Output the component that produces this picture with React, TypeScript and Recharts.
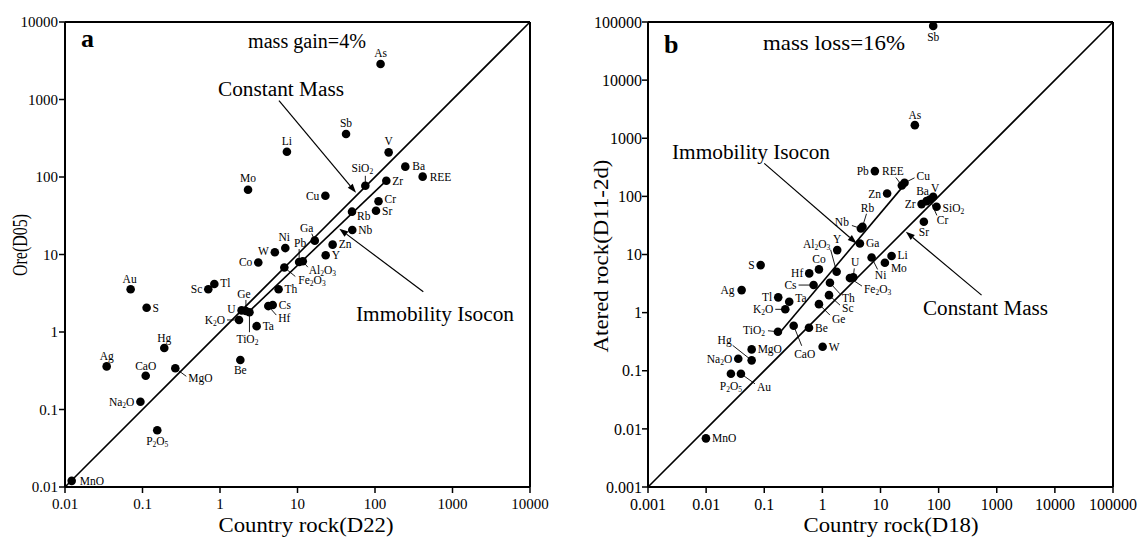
import React from "react";
import { ScatterChart, Scatter, XAxis, YAxis, ReferenceLine } from "recharts";

const FONT = "Liberation Serif, Times New Roman, Times, serif";

// ---- panel a: country rock (D22) vs ore (D05)
const elemA = [
  "As", "Sb", "Li", "V", "Ba", "REE", "SiO2", "Zr", "Mo", "Cu", "Cr", "Sr", "Rb", "Nb",
  "Ga", "Zn", "Ni", "W", "Y", "Co", "Pb", "Al2O3", "Fe2O3", "Th", "Sc", "Tl", "U", "Ge",
  "TiO2", "K2O", "Cs", "Hf", "Ta", "Au", "S", "Hg", "Ag", "CaO", "MgO", "Be", "Na2O",
  "P2O5", "MnO",
];
const rockA = [
  118, 42.3, 7.3, 150, 246, 412, 75, 140, 2.3, 22.9, 111, 103, 50.5, 50.9,
  16.7, 28.4, 6.96, 5.1, 23.1, 3.12, 10.5, 11.7, 6.76, 5.7, 0.706, 0.845, 1.9, 2.16,
  2.4, 1.76, 4.79, 4.2, 2.97, 0.0703, 0.113, 0.191, 0.0345, 0.11, 0.265, 1.83, 0.094,
  0.155, 0.0122,
];
const oreA = [
  2870, 359, 212, 208, 136, 101, 77, 89.6, 68.6, 57.4, 48.6, 36.7, 35.7, 20.7,
  15.1, 13.4, 12.1, 10.7, 9.8, 7.9, 8.0, 8.2, 6.8, 3.56, 3.56, 4.16, 1.9, 1.87,
  1.8, 1.43, 2.23, 2.16, 1.19, 3.56, 2.06, 0.622, 0.36, 0.273, 0.34, 0.435, 0.126,
  0.054, 0.012,
];

// ---- panel b: country rock (D18) vs altered rock (D11-2d)
const elemB = [
  "Sb", "As", "Pb", "REE", "Cu", "Zn", "Zr", "Ba", "Cr", "V", "SiO2", "Sr", "Rb", "Nb",
  "Ga", "Y", "Al2O3", "Li", "Mo", "Ni", "U", "Fe2O3", "Co", "Hf", "Cs", "Th", "Sc", "Ge",
  "S", "Ag", "Tl", "Ta", "K2O", "TiO2", "CaO", "Be", "W", "MgO", "Hg", "Na2O", "P2O5",
  "Au", "MnO",
];
const rockB = [
  80.7, 39, 8.0, 23.3, 25.9, 13.0, 50.9, 62, 70.7, 80.6, 92.1, 55.7, 4.9, 4.6,
  4.42, 1.8, 1.76, 15.5, 11.9, 7.03, 3.4, 2.98, 0.873, 0.594, 0.706, 1.35, 1.3, 0.873,
  0.0867, 0.0408, 0.174, 0.269, 0.23, 0.172, 0.321, 0.588, 1.01, 0.0607, 0.0607, 0.0357, 0.0267,
  0.0397, 0.00993,
];
const alteredB = [
  85700, 1680, 272, 154, 171, 112, 73.6, 82.8, 88.6, 98.4, 66.2, 36.5, 30, 28,
  15.5, 11.9, 5.04, 9.4, 7.2, 8.9, 4.04, 3.93, 5.54, 4.73, 2.98, 3.26, 2.0, 1.4,
  6.57, 2.44, 1.83, 1.54, 1.14, 0.469, 0.594, 0.548, 0.259, 0.233, 0.151, 0.161, 0.0887,
  0.0887, 0.00687,
];

const ticksA = [0.01, 0.1, 1, 10, 100, 1000, 10000];
const ticksB = [0.001, 0.01, 0.1, 1, 10, 100, 1000, 10000, 100000];

// isocon lines (data space)
const isoconA = [{ x: 2.23, y: 1.73 }, { x: 140, y: 89.6 }];
const isoconB = [{ x: 0.199, y: 0.491 }, { x: 24.6, y: 150 }];

// annotation arrows, tail -> head (data space)
const arrowsA = [
  [{ x: 5.77, y: 966 }, { x: 56.9, y: 62.7 }],
  [{ x: 420, y: 3.31 }, { x: 34.6, y: 21.5 }],
];
const arrowsB = [
  [{ x: 0.1, y: 369 }, { x: 3.88, y: 15.5 }],
  [{ x: 548, y: 2.0 }, { x: 27.3, y: 24.6 }],
];

// label placement: [dx, dy, anchor, leaderX?, leaderY?]
type Lab = [number, number, string, number?, number?];
const labA: Record<string, Lab> = {
  As: [0, -11, "m"], Sb: [0, -11, "m"], Li: [0, -11, "m"], V: [0, -11, "m"],
  Ba: [7, -1, "s"], REE: [7, 0, "s"], SiO2: [-3, -18, "m", 0, -10], Zr: [6, 0, "s"],
  Mo: [0, -12, "m"], Cu: [-6, 0, "e"], Cr: [6, -2, "s"], Sr: [6, 0, "s"], Rb: [5, 4, "s"],
  Nb: [6, 0, "s"], Ga: [-8, -13, "m", -3, -7], Zn: [6, -1, "s"], Y: [6, 0, "s"],
  Ni: [-1, -11, "m"], W: [-6, -1, "e"], Co: [-6, 0, "e"], Pb: [1, -19, "m", 0, -13],
  Al2O3: [6, 9, "s", 5, 6], Fe2O3: [14, 13, "s", 11, 9], Th: [6, 0, "s"], Sc: [-6, 0, "e"],
  Tl: [6, -1, "s"], U: [-6, -1, "e"], Ge: [-2, -17, "m", 0, -11], TiO2: [-2, 27, "m", 0, 20],
  K2O: [-14, 0, "e", -12, 0], Cs: [6, 0, "s"], Hf: [10, 12, "s", 8, 9], Ta: [6, 0, "s"],
  Au: [-1, -10, "m"], S: [6, 0, "s"], Hg: [0, -10, "m"], Ag: [0, -10, "m"], CaO: [0, -10, "m"],
  MgO: [13, 10, "s", 11, 8], Be: [0, 10, "m"], Na2O: [-6, 0, "e"], P2O5: [0, 11, "m"],
  MnO: [8, 0, "s"],
};
const labB: Record<string, Lab> = {
  Sb: [0, 11, "m"], As: [0, -10, "m"], Pb: [-6, 0, "e"], REE: [-9, -14, "m", -6, -8],
  Cu: [12, -7, "s", 10, -5], Zn: [-6, 0, "e"], Zr: [-6, 0, "e"], Ba: [-4, -10, "m"],
  V: [2, -9, "m"], SiO2: [6, 1, "s"], Cr: [7, 21, "s", 7, 16], Sr: [0, 10, "m"],
  Rb: [5, -19, "m", 4, -13], Nb: [-12, -7, "e", -9, -3], Ga: [6, 0, "s"], Y: [0, -11, "m"],
  Al2O3: [-20, -28, "m", -6, -22], Li: [6, -1, "s"], Mo: [6, 5, "s"], Ni: [9, 18, "m", 6, 12],
  U: [2, -15, "m", 1, -9], Fe2O3: [14, 11, "s", 12, 8], Co: [0, -10, "m"], Hf: [-6, 0, "e"],
  Cs: [-17, 0, "e", -15, 0], Th: [12, 15, "s", 10, 11], Sc: [13, 13, "s", 11, 10],
  Ge: [13, 15, "s", 11, 11], S: [-6, 0, "e"], Ag: [-7, 0, "e"], Tl: [-6, 0, "e"],
  Ta: [6, -4, "s"], K2O: [-12, 0, "e", -10, 0], TiO2: [-13, -2, "e", -10, -1],
  CaO: [11, 28, "m", 8, 20], Be: [6, 0, "s"], W: [6, 0, "s"], MgO: [6, 0, "s"],
  Hg: [-27, -20, "m", -19, -15], Na2O: [-6, 0, "e"], P2O5: [0, 12, "m"],
  Au: [16, 13, "s", 14, 10], MnO: [6, 0, "s"],
};

function Chem({ name, ...rest }: any) {
  const parts: string[] = name.match(/[A-Za-z]+|\d+/g) || [name];
  return (
    <text {...rest}>
      {parts.map((p, i) =>
        /\d/.test(p) ? (
          <tspan key={i} fontSize={7.5} dy={3}>{p}</tspan>
        ) : (
          <tspan key={i} dy={i > 0 && /\d/.test(parts[i - 1]) ? -3 : 0}>{p}</tspan>
        )
      )}
    </text>
  );
}

const makeDot = (layout: Record<string, Lab>) => (props: any) => {
  const { cx, cy, payload } = props;
  const [dx, dy, a, lx, ly] = layout[payload.name] || [6, 0, "s"];
  const anchor = a === "s" ? "start" : a === "e" ? "end" : "middle";
  return (
    <g>
      {lx !== undefined && (
        <line x1={cx} y1={cy} x2={cx + lx} y2={cy + (ly || 0)} stroke="#000" strokeWidth={0.9} />
      )}
      <circle cx={cx} cy={cy} r={4.3} fill="#000" />
      <Chem
        name={payload.name}
        x={cx + dx}
        y={cy + dy}
        textAnchor={anchor}
        dominantBaseline="central"
        fontSize={11.5}
        style={{ fontFamily: FONT }}
        fill="#000"
      />
    </g>
  );
};

const Arrow = (props: any) => {
  const { x1, y1, x2, y2 } = props;
  const ang = Math.atan2(y2 - y1, x2 - x1);
  const L = 9;
  const W = 3.2;
  const bx = x2 - L * Math.cos(ang);
  const by = y2 - L * Math.sin(ang);
  const px = -Math.sin(ang) * W;
  const py = Math.cos(ang) * W;
  return (
    <g>
      <line x1={x1} y1={y1} x2={bx} y2={by} stroke="#000" strokeWidth={1.2} />
      <polygon points={`${x2},${y2} ${bx + px},${by + py} ${bx - px},${by - py}`} fill="#000" />
    </g>
  );
};

const fmt = (v: number) => String(v);

function Panel({
  names, xs, ys, ticks, width, margin, layout, isocon, arrows, tickFont, yTickMargin, xTickMargin,
}: any) {
  const data = names.map((name: string, i: number) => ({ name, x: xs[i], y: ys[i] }));
  const lo = ticks[0];
  const hi = ticks[ticks.length - 1];
  const tickStyle = { fill: "#000", fontSize: tickFont, style: { fontFamily: FONT } };
  return (
    <ScatterChart width={width} height={538} margin={margin} style={{ fontFamily: FONT }}>
      <XAxis
        dataKey="x"
        type="number"
        scale="log"
        domain={[lo, hi]}
        ticks={ticks}
        interval={0}
        allowDataOverflow
        tickFormatter={fmt}
        height={40}
        tickSize={6}
        tickMargin={xTickMargin}
        tick={tickStyle}
        axisLine={{ stroke: "#000", strokeWidth: 2 }}
        tickLine={{ stroke: "#000", strokeWidth: 1.5 }}
      />
      <YAxis
        dataKey="y"
        type="number"
        scale="log"
        domain={[lo, hi]}
        ticks={ticks}
        interval={0}
        allowDataOverflow
        tickFormatter={fmt}
        width={60}
        tickSize={6}
        tickMargin={yTickMargin}
        tick={tickStyle}
        axisLine={{ stroke: "#000", strokeWidth: 2 }}
        tickLine={{ stroke: "#000", strokeWidth: 1.5 }}
      />
      <ReferenceLine y={hi} stroke="#000" strokeWidth={2} />
      <ReferenceLine x={hi} stroke="#000" strokeWidth={2} />
      <ReferenceLine segment={[{ x: lo, y: lo }, { x: hi, y: hi }]} stroke="#000" strokeWidth={1.6} />
      <ReferenceLine segment={isocon} stroke="#000" strokeWidth={1.6} />
      {arrows.map((seg: any, i: number) => (
        <ReferenceLine key={i} segment={seg} shape={Arrow} />
      ))}
      <Scatter data={data} shape={makeDot(layout)} isAnimationActive={false} />
    </ScatterChart>
  );
}

export default function App() {
  return (
    <div
      style={{
        position: "absolute", left: 0, top: 0, width: 1146, height: 538,
        background: "#fff", overflow: "hidden", fontFamily: FONT,
      }}
    >
      <div style={{ position: "absolute", left: 0, top: 0 }}>
        <Panel
          names={elemA} xs={rockA} ys={oreA} ticks={ticksA} width={560}
          margin={{ top: 22, right: 30, bottom: 11, left: 5 }}
          layout={labA} isocon={isoconA} arrows={arrowsA}
          tickFont={15} yTickMargin={1} xTickMargin={5}
        />
      </div>
      <div style={{ position: "absolute", left: 580, top: 0 }}>
        <Panel
          names={elemB} xs={rockB} ys={alteredB} ticks={ticksB} width={566}
          margin={{ top: 22, right: 33, bottom: 11, left: 8 }}
          layout={labB} isocon={isoconB} arrows={arrowsB}
          tickFont={16} yTickMargin={0} xTickMargin={6}
        />
      </div>
      <svg
        width={1146}
        height={538}
        style={{ position: "absolute", left: 0, top: 0, pointerEvents: "none", fontFamily: FONT }}
        fill="#000"
      >
        <text x={81} y={47} fontSize={26} fontWeight="bold">a</text>
        <text x={664} y={53} fontSize={26} fontWeight="bold">b</text>
        <text x={248} y={48} fontSize={20} textLength={118} lengthAdjust="spacingAndGlyphs">mass gain=4%</text>
        <text x={763} y={50} fontSize={21} textLength={142} lengthAdjust="spacingAndGlyphs">mass loss=16%</text>
        <text x={218} y={96} fontSize={20} textLength={126} lengthAdjust="spacingAndGlyphs">Constant Mass</text>
        <text x={356} y={321} fontSize={20} textLength={158} lengthAdjust="spacingAndGlyphs">Immobility Isocon</text>
        <text x={672} y={159} fontSize={20} textLength={158} lengthAdjust="spacingAndGlyphs">Immobility Isocon</text>
        <text x={923} y={315} fontSize={20} textLength={125} lengthAdjust="spacingAndGlyphs">Constant Mass</text>
        <text x={306} y={532} fontSize={22} textAnchor="middle" textLength={175} lengthAdjust="spacingAndGlyphs">Country rock(D22)</text>
        <text x={891} y={532} fontSize={22} textAnchor="middle" textLength={175} lengthAdjust="spacingAndGlyphs">Country rock(D18)</text>
        <text
          x={27} y={245} fontSize={21} textAnchor="middle" textLength={62} lengthAdjust="spacingAndGlyphs"
          transform="rotate(-90 27 245)"
        >
          Ore(D05)
        </text>
        <text
          x={608} y={256} fontSize={21} textAnchor="middle" textLength={193} lengthAdjust="spacingAndGlyphs"
          transform="rotate(-90 608 256)"
        >
          Atered rock(D11-2d)
        </text>
      </svg>
    </div>
  );
}
